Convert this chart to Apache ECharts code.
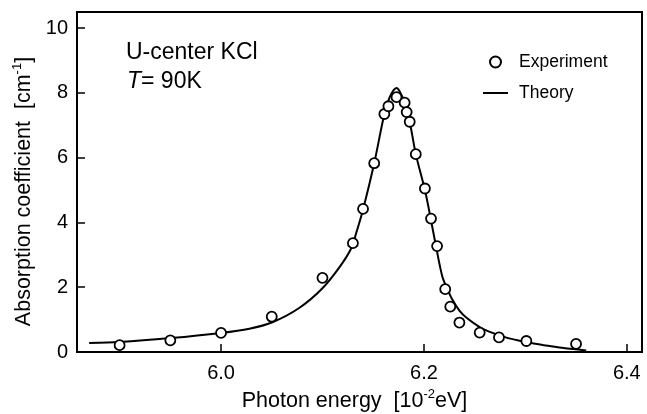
<!DOCTYPE html>
<html>
<head>
<meta charset="utf-8">
<script src="https://cdn.jsdelivr.net/npm/echarts@6/dist/echarts.min.js"></script>
<style>
  html, body { margin: 0; padding: 0; background: #fff; }
  #chart { width: 647px; height: 414px; }
</style>
</head>
<body>
<div id="chart"></div>
<script>
// experiment points (open circles)
const expX = [5.900, 5.950, 6.000, 6.050, 6.100, 6.130, 6.140, 6.151, 6.161, 6.165, 6.173,
              6.181, 6.183, 6.186, 6.192, 6.201, 6.207, 6.213, 6.221, 6.226, 6.235, 6.255,
              6.274, 6.301, 6.350]
const expY = [0.21, 0.36, 0.59, 1.09, 2.29, 3.36, 4.42, 5.83, 7.35, 7.59, 7.87,
              7.70, 7.41, 7.11, 6.11, 5.05, 4.12, 3.27, 1.94, 1.40, 0.91, 0.60,
              0.45, 0.34, 0.25]

// theory curve
const theoryX = [5.870, 5.900, 5.950, 6.000, 6.028, 6.050, 6.077, 6.100, 6.117, 6.128,
                 6.134, 6.140, 6.151, 6.161, 6.166, 6.170, 6.173, 6.176, 6.181, 6.186,
                 6.192, 6.201, 6.207, 6.212, 6.218, 6.223, 6.228, 6.235, 6.242, 6.255,
                 6.262, 6.274, 6.284, 6.300, 6.307, 6.320, 6.334, 6.347, 6.360]
const theoryY = [0.28, 0.31, 0.43, 0.59, 0.72, 0.91, 1.36, 1.97, 2.63, 3.18,
                 3.75, 4.40, 5.83, 7.35, 7.85, 8.08, 8.15, 8.05, 7.70, 7.11,
                 6.11, 5.00, 4.07, 3.25, 2.35, 1.95, 1.62, 1.28, 1.06, 0.77,
                 0.66, 0.52, 0.42, 0.31, 0.27, 0.20, 0.14, 0.09, 0.05]

const xTicks = [6.0, 6.2, 6.4]
const yTicks = [0, 2, 4, 6, 8, 10]

const FONT = 'Liberation Sans, Arial, Helvetica, sans-serif'

function zip(xs, ys) {
    return xs.map((x, i) => [x, ys[i]])
}

const titleRich = {
    a: { fontSize: 21.5, fontFamily: FONT, color: '#000', lineHeight: 26 },
    s: { fontSize: 13, fontFamily: FONT, color: '#000', verticalAlign: 'top', lineHeight: 15 }
}

const myChart = echarts.init(document.getElementById('chart'))

const option = {
    backgroundColor: '#fff',
    animation: false,
    textStyle: { fontFamily: FONT, color: '#000' },
    grid: {
        left: 77, right: 5, top: 12, bottom: 62,
        show: true, borderColor: '#000', borderWidth: 2,
        outerBoundsMode: 'none'
    },
    legend: {
        orient: 'vertical',
        left: 483,
        top: 52,
        padding: 0,
        itemWidth: 25,
        itemHeight: 11,
        itemGap: 11,
        textStyle: { fontFamily: FONT, fontSize: 17.5, color: '#000', lineHeight: 20, padding: [0, 0, 0, 6] },
        data: [
            { name: 'Experiment' },
            { name: 'Theory', icon: 'path://M0,0 H25 V2 H0 Z' }
        ]
    },
    xAxis: {
        type: 'value',
        min: 5.858,
        max: 6.415,
        splitLine: { show: false },
        axisLine: { lineStyle: { color: '#000', width: 2 } },
        axisTick: { inside: true, length: 8, lineStyle: { color: '#000', width: 1.5 }, customValues: xTicks },
        axisLabel: {
            customValues: xTicks, margin: 11, fontSize: 20, color: '#000', fontFamily: FONT,
            formatter: v => Number(v).toFixed(1)
        },
        name: '{a|Photon energy  [10}{s|-2}{a|eV]}',
        nameLocation: 'middle',
        nameGap: 35,
        nameTextStyle: { padding: [0, 10, 0, 0], rich: titleRich }
    },
    yAxis: {
        type: 'value',
        min: 0,
        max: 10.5,
        splitLine: { show: false },
        axisLine: { lineStyle: { color: '#000', width: 2 } },
        axisTick: { inside: true, length: 8, lineStyle: { color: '#000', width: 1.5 }, customValues: yTicks },
        axisLabel: { customValues: yTicks, margin: 9, fontSize: 20, color: '#000', fontFamily: FONT },
        name: '{a|Absorption coefficient  [cm}{s|-1}{a|]}',
        nameLocation: 'middle',
        nameGap: 33,
        nameTextStyle: { padding: [0, 19, 0, 0], rich: titleRich }
    },
    graphic: [
        {
            type: 'text', left: 126, top: 41,
            style: { text: 'U-center KCl', font: '23px ' + FONT, fill: '#000' }
        },
        {
            type: 'text', left: 127, top: 70,
            style: {
                text: '{i|T}{a|= 90K}',
                rich: {
                    i: { fontSize: 23, fontFamily: FONT, fontStyle: 'italic', fill: '#000' },
                    a: { fontSize: 23, fontFamily: FONT, fill: '#000' }
                }
            }
        }
    ],
    series: [
        {
            name: 'Theory',
            type: 'line',
            data: zip(theoryX, theoryY),
            smooth: 0.3,
            symbol: 'none',
            lineStyle: { color: '#000', width: 2 },
            itemStyle: { color: '#000' },
            z: 2
        },
        {
            name: 'Experiment',
            type: 'scatter',
            data: zip(expX, expY),
            symbol: 'circle',
            symbolSize: 10,
            itemStyle: { color: '#fff', borderColor: '#000', borderWidth: 1.8, opacity: 1 },
            z: 3
        }
    ]
}

option && myChart.setOption(option, true)
</script>
</body>
</html>
